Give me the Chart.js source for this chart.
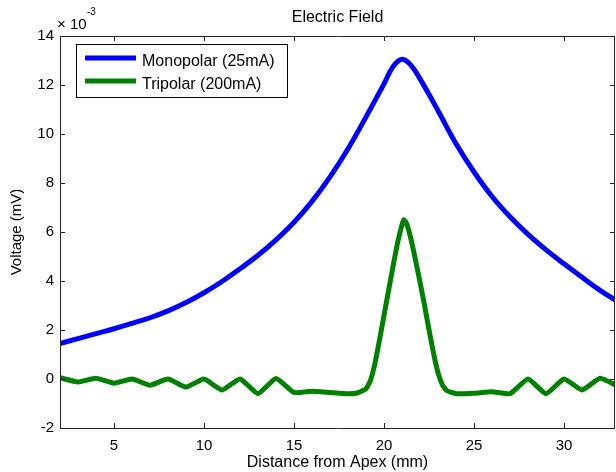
<!DOCTYPE html>
<html>
<head>
<meta charset="utf-8">
<title>Electric Field</title>
<script src="https://cdn.jsdelivr.net/npm/chart.js@4.4.0/dist/chart.umd.min.js"></script>
<style>
  html, body { margin: 0; padding: 0; background: #fff; }
</style>
</head>
<body>
<canvas id="fieldChart" width="616" height="472"></canvas>
<script>
// data (voltage in units of 1e-3 mV)
var monoX = [2, 3, 4, 5, 6, 7, 8, 9, 10, 11, 12, 13, 14, 15, 16, 17, 18, 19, 20, 20.5, 21, 21.5, 22, 23, 24, 25, 26, 27, 28, 29, 30, 31, 32, 33];
var monoY = [1.45, 1.65, 1.85, 2.05, 2.27, 2.5, 2.78, 3.12, 3.52, 3.98, 4.5, 5.05, 5.68, 6.4, 7.25, 8.25, 9.4, 10.7, 12.05, 12.75, 13.05, 12.8, 12.25, 10.95, 9.6, 8.45, 7.45, 6.62, 5.9, 5.27, 4.7, 4.15, 3.62, 3.15];

var triX = [2, 3, 4, 5, 6, 7, 8, 9, 10, 11, 12, 13, 14, 15, 16, 17, 18, 18.5, 19, 19.25, 19.5, 19.75, 20, 20.25, 20.5, 20.75, 21, 21.1, 21.25, 21.5, 21.75, 22, 22.25, 22.5, 22.75, 23, 23.25, 23.5, 24, 25, 26, 27, 28, 29, 30, 31, 32, 33];
var triY = [0.05, -0.12, 0.03, -0.17, 0.0, -0.25, 0.0, -0.33, 0.0, -0.45, 0.0, -0.6, 0.02, -0.55, -0.5, -0.55, -0.6, -0.57, -0.4, -0.05, 0.65, 1.6, 2.6, 3.6, 4.6, 5.55, 6.3, 6.5, 6.35, 5.7, 4.85, 3.95, 3.0, 2.0, 1.05, 0.25, -0.25, -0.48, -0.6, -0.58, -0.52, -0.6, 0.0, -0.6, 0.0, -0.45, 0.03, -0.3];

var seriesNames = ["Monopolar (25mA)", "Tripolar (200mA)"];
var seriesColors = ["#0000ff", "#008000"];

var xTicks = [5, 10, 15, 20, 25, 30];
var yTicks = [-2, 0, 2, 4, 6, 8, 10, 12, 14];

var FONT = "'Liberation Sans', Arial, Helvetica, sans-serif";
var AXIS_COLOR = "#262626";

function toPoints(xs, ys) {
  return xs.map(function (x, i) {
    return { x: x, y: ys[i] };
  });
}

// matlab style box with inward tick marks, exponent and legend
var boxPlugin = {
  id: "matlabBox",
  afterDatasetsDraw: function (chart) {
    var ctx = chart.ctx;
    var a = chart.chartArea;
    var xs = chart.scales.x;
    var ys = chart.scales.y;
    var len = 5;
    ctx.save();
    ctx.strokeStyle = AXIS_COLOR;
    ctx.lineWidth = 1;
    ctx.beginPath();
    ctx.rect(Math.round(a.left) + 0.5, Math.round(a.top) + 0.5,
      Math.round(a.right - a.left) - 1, Math.round(a.bottom - a.top));
    xTicks.forEach(function (v) {
      var px = Math.round(xs.getPixelForValue(v)) + 0.5;
      ctx.moveTo(px, a.bottom);
      ctx.lineTo(px, a.bottom - len);
      ctx.moveTo(px, a.top);
      ctx.lineTo(px, a.top + len);
    });
    yTicks.forEach(function (v) {
      var py = Math.round(ys.getPixelForValue(v)) + 0.5;
      ctx.moveTo(a.left, py);
      ctx.lineTo(a.left + len, py);
      ctx.moveTo(a.right, py);
      ctx.lineTo(a.right - len, py);
    });
    ctx.stroke();
    ctx.restore();
  },
  afterDraw: function (chart) {
    var ctx = chart.ctx;
    var a = chart.chartArea;
    ctx.save();
    ctx.fillStyle = "#000";
    ctx.textBaseline = "alphabetic";
    ctx.font = "15px " + FONT;
    ctx.fillText("\u00d7 10", a.left - 3, a.top - 7);
    ctx.font = "10px " + FONT;
    ctx.fillText("-3", a.left + 27, a.top - 21);

    var lx = 76.5, ly = 44.5, lw = 211, lh = 53;
    ctx.fillStyle = "#fff";
    ctx.fillRect(lx, ly, lw, lh);
    ctx.strokeStyle = "#000";
    ctx.lineWidth = 1;
    ctx.strokeRect(lx, ly, lw, lh);
    ctx.font = "16px " + FONT;
    chart.data.datasets.forEach(function (ds, i) {
      var yy = 58 + i * 23;
      ctx.strokeStyle = ds.borderColor;
      ctx.lineWidth = 5;
      ctx.beginPath();
      ctx.moveTo(85, yy);
      ctx.lineTo(136, yy);
      ctx.stroke();
      ctx.fillStyle = "#000";
      ctx.fillText(ds.label, 142, yy + 8);
    });
    ctx.restore();
  }
};

var ctx = document.getElementById("fieldChart").getContext("2d");

new Chart(ctx, {
  type: "line",
  data: {
    datasets: [
      {
        label: seriesNames[0],
        data: toPoints(monoX, monoY),
        borderColor: seriesColors[0],
        backgroundColor: seriesColors[0],
        borderWidth: 5,
        pointRadius: 0,
        tension: 0.4,
        fill: false
      },
      {
        label: seriesNames[1],
        data: toPoints(triX, triY),
        borderColor: seriesColors[1],
        backgroundColor: seriesColors[1],
        borderWidth: 5,
        pointRadius: 0,
        tension: 0.15,
        borderJoinStyle: "round",
        fill: false
      }
    ]
  },
  options: {
    responsive: false,
    animation: false,
    events: [],
    layout: { padding: { left: 0, right: 1, top: 0, bottom: 0 } },
    plugins: {
      legend: { display: false },
      tooltip: { enabled: false },
      title: {
        display: true,
        fullSize: false,
        text: "Electric Field",
        color: "#000",
        font: { family: FONT, size: 16, weight: "normal", lineHeight: 1.2 },
        padding: { top: 8, bottom: 8.8 }
      }
    },
    scales: {
      x: {
        type: "linear",
        min: 2,
        max: 32.83,
        afterFit: function (scale) {
          scale.height = 44;
        },
        afterBuildTicks: function (scale) {
          scale.ticks = xTicks.map(function (v) {
            return { value: v };
          });
        },
        grid: { display: false, drawTicks: false },
        border: { display: false },
        ticks: {
          color: "#000",
          padding: 9,
          maxRotation: 0,
          font: { family: FONT, size: 15 }
        },
        title: {
          display: true,
          text: "Distance from Apex (mm)",
          color: "#000",
          font: { family: FONT, size: 16, lineHeight: 1.2 },
          padding: { top: 0, bottom: 0 }
        }
      },
      y: {
        type: "linear",
        min: -2,
        max: 14,
        afterFit: function (scale) {
          scale.width = 60;
        },
        afterBuildTicks: function (scale) {
          scale.ticks = yTicks.map(function (v) {
            return { value: v };
          });
        },
        grid: { display: false, drawTicks: false },
        border: { display: false },
        ticks: {
          color: "#000",
          padding: 6,
          font: { family: FONT, size: 15 }
        },
        title: {
          display: true,
          text: "Voltage (mV)",
          color: "#000",
          font: { family: FONT, size: 15, lineHeight: 1.2 },
          padding: { top: 8, bottom: 0 }
        }
      }
    }
  },
  plugins: [boxPlugin]
});
</script>
</body>
</html>
